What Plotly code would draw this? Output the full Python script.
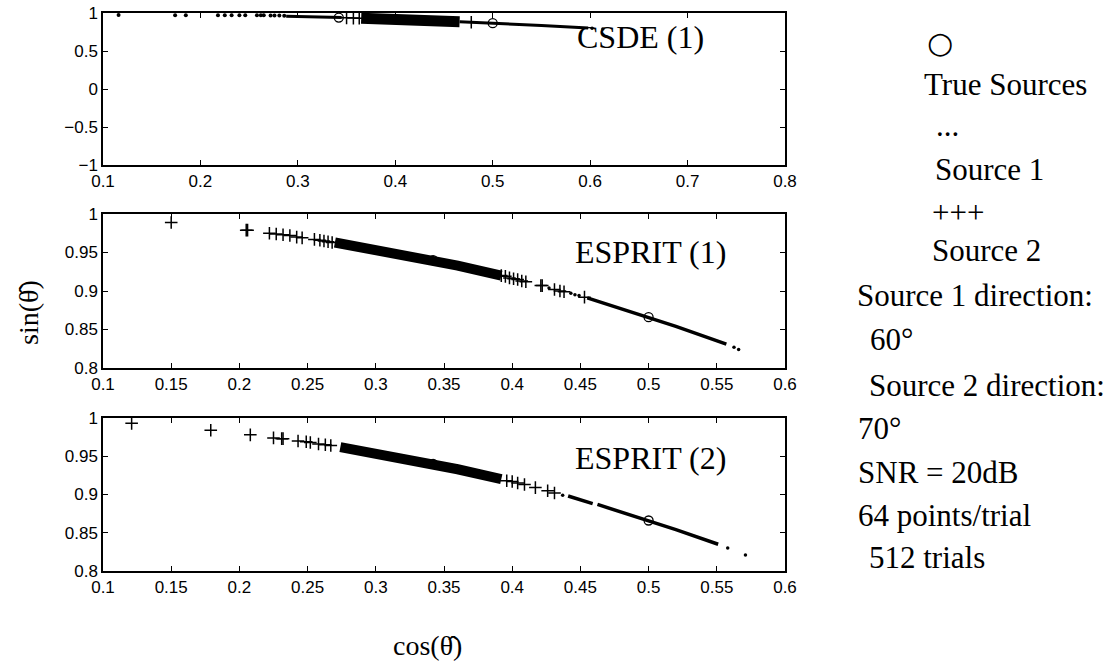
import plotly.graph_objects as go

W, H = 1116, 663

# ---------------- data ----------------
true_x = [0.342, 0.500]
true_y = [0.940, 0.866]

# CSDE (1)
csde_s2_x = [0.116, 0.174, 0.185, 0.218, 0.225, 0.232, 0.240, 0.246, 0.258, 0.262, 0.265, 0.272, 0.276, 0.281, 0.286]
csde_s2_y = [0.975, 0.972, 0.972, 0.972, 0.972, 0.972, 0.972, 0.971, 0.969, 0.969, 0.969, 0.967, 0.967, 0.966, 0.965]
csde_plus_x = [0.350, 0.357, 0.363, 0.478]
csde_plus_y = [0.936, 0.933, 0.931, 0.878]
csde_band_x = [0.365, 0.400, 0.430, 0.466]
csde_band_y = [0.931, 0.917, 0.903, 0.885]
csde_s1_line_x = [0.288, 0.345, None, 0.466, 0.500, 0.550, 0.598]
csde_s1_line_y = [0.958, 0.942, None, 0.885, 0.866, 0.835, 0.801]
csde_s1_x = [0.602, 0.613]
csde_s1_y = [0.798, 0.790]

# ESPRIT (1)
esp1_s2_x = [0.150, 0.205, 0.206, 0.222, 0.227, 0.232, 0.237, 0.242, 0.246, 0.255, 0.259, 0.262, 0.265, 0.268,
             0.392, 0.395, 0.398, 0.401, 0.404, 0.407, 0.410, 0.421, 0.422, 0.431, 0.435, 0.438, 0.453]
esp1_s2_y = [0.989, 0.979, 0.979, 0.975, 0.974, 0.973, 0.972, 0.970, 0.969, 0.967, 0.966, 0.965, 0.964, 0.963,
             0.920, 0.919, 0.917, 0.916, 0.915, 0.913, 0.912, 0.907, 0.907, 0.902, 0.900, 0.899, 0.892]
esp1_band_x = [0.270, 0.300, 0.330, 0.360, 0.392]
esp1_band_y = [0.963, 0.954, 0.944, 0.933, 0.920]
esp1_s1_x = [0.427, 0.443, 0.446, 0.449, 0.5626, 0.566]
esp1_s1_y = [0.904, 0.897, 0.895, 0.894, 0.827, 0.824]
esp1_s1_line_x = [0.455, 0.480, 0.500, 0.520, 0.557]
esp1_s1_line_y = [0.891, 0.877, 0.866, 0.854, 0.831]

# ESPRIT (2)
esp2_s2_x = [0.121, 0.179, 0.208, 0.225, 0.231, 0.232, 0.243, 0.249, 0.252, 0.258, 0.263, 0.267,
             0.396, 0.400, 0.404, 0.409, 0.417, 0.426, 0.431]
esp2_s2_y = [0.993, 0.984, 0.978, 0.974, 0.973, 0.973, 0.970, 0.969, 0.968, 0.966, 0.965, 0.964,
             0.918, 0.917, 0.915, 0.913, 0.909, 0.905, 0.902]
esp2_band_x = [0.274, 0.300, 0.330, 0.360, 0.392]
esp2_band_y = [0.962, 0.954, 0.944, 0.933, 0.920]
esp2_s1_x = [0.437, 0.558, 0.571]
esp2_s1_y = [0.899, 0.830, 0.821]
esp2_s1_line_x = [0.441, 0.459, None, 0.4625, 0.480, 0.500, 0.520, 0.551]
esp2_s1_line_y = [0.898, 0.888, None, 0.887, 0.877, 0.866, 0.854, 0.835]

panel_titles = ["CSDE (1)", "ESPRIT (1)", "ESPRIT (2)"]
side_text = ["○", "True Sources", "...", "Source 1", "+++", "Source 2", "Source 1 direction:",
             "60°", "Source 2 direction:", "70°", "SNR = 20dB", "64 points/trial", "512 trials"]

# ---------------- figure ----------------
fig = go.Figure()
BLACK = "black"


def plus(x, y, ax, size=9):
    return go.Scatter(x=x, y=y, mode="markers", xaxis=ax[0], yaxis=ax[1], cliponaxis=False,
                      marker=dict(symbol="cross-thin", size=size, line=dict(width=1.5, color=BLACK)),
                      showlegend=False, hoverinfo="skip")


def dots(x, y, ax, size=3.5):
    return go.Scatter(x=x, y=y, mode="markers", xaxis=ax[0], yaxis=ax[1], cliponaxis=False,
                      marker=dict(symbol="circle", size=size, color=BLACK),
                      showlegend=False, hoverinfo="skip")


def band(x, y, ax, width):
    return go.Scatter(x=x, y=y, mode="lines", xaxis=ax[0], yaxis=ax[1], cliponaxis=False,
                      line=dict(color=BLACK, width=width), showlegend=False, hoverinfo="skip")


def truth(ax):
    return go.Scatter(x=true_x, y=true_y, mode="markers", xaxis=ax[0], yaxis=ax[1], cliponaxis=False,
                      marker=dict(symbol="circle-open", size=9, color=BLACK, line=dict(width=1.3, color=BLACK)),
                      showlegend=False, hoverinfo="skip")


a1, a2, a3 = ("x", "y"), ("x2", "y2"), ("x3", "y3")

fig.add_trace(dots(csde_s2_x, csde_s2_y, a1, 4))
fig.add_trace(band(csde_s1_line_x, csde_s1_line_y, a1, 3))
fig.add_trace(band(csde_band_x, csde_band_y, a1, 11))
fig.add_trace(plus(csde_plus_x, csde_plus_y, a1))
fig.add_trace(dots(csde_s1_x, csde_s1_y, a1))
fig.add_trace(truth(a1))

fig.add_trace(band(esp1_band_x, esp1_band_y, a2, 10))
fig.add_trace(plus(esp1_s2_x, esp1_s2_y, a2))
fig.add_trace(band(esp1_s1_line_x, esp1_s1_line_y, a2, 3.5))
fig.add_trace(dots(esp1_s1_x, esp1_s1_y, a2))
fig.add_trace(truth(a2))

fig.add_trace(band(esp2_band_x, esp2_band_y, a3, 10))
fig.add_trace(plus(esp2_s2_x, esp2_s2_y, a3))
fig.add_trace(band(esp2_s1_line_x, esp2_s1_line_y, a3, 3.5))
fig.add_trace(dots(esp2_s1_x, esp2_s1_y, a3))
fig.add_trace(truth(a3))


def px_x(p):
    return p / W


def px_y(p):
    return 1 - p / H


tickfont = dict(family="Liberation Sans, Arial, sans-serif", size=17, color=BLACK)
axis_common = dict(showline=True, linecolor=BLACK, linewidth=1.5, mirror="ticks", ticks="inside",
                   ticklen=5, tickwidth=1, tickcolor=BLACK, showgrid=False, zeroline=False,
                   tickfont=tickfont, automargin=False, fixedrange=True)

xdom = [px_x(103), px_x(785)]
fig.update_layout(
    width=W, height=H, margin=dict(l=0, r=0, t=0, b=0),
    paper_bgcolor="white", plot_bgcolor="white", showlegend=False,
    xaxis=dict(domain=xdom, range=[0.1, 0.8], dtick=0.1, tick0=0.1, anchor="y", **axis_common),
    yaxis=dict(domain=[px_y(165), px_y(13)], range=[-1, 1], dtick=0.5, anchor="x", **axis_common),
    xaxis2=dict(domain=xdom, range=[0.1, 0.6], dtick=0.05, tick0=0.1, anchor="y2", **axis_common),
    yaxis2=dict(domain=[px_y(368), px_y(214)], range=[0.8, 1], dtick=0.05, anchor="x2", **axis_common),
    xaxis3=dict(domain=xdom, range=[0.1, 0.6], dtick=0.05, tick0=0.1, anchor="y3", **axis_common),
    yaxis3=dict(domain=[px_y(571), px_y(418)], range=[0.8, 1], dtick=0.05, anchor="x3", **axis_common),
)

serif = "Liberation Serif, Times New Roman, serif"
annos = []
# panel titles
for t, (cx, cy) in zip(panel_titles, [(640, 37), (650, 252), (650, 458)]):
    annos.append(dict(text=t, x=px_x(cx), y=px_y(cy), xref="paper", yref="paper", showarrow=False,
                      xanchor="center", yanchor="middle", font=dict(family=serif, size=32, color=BLACK)))

# side texts (left x, centre y)
side_pos = [(925, 42), (922, 84), (934, 125), (933, 170), (930, 213), (930, 250), (855, 295),
            (868, 340), (867, 385), (856, 428), (856, 472), (856, 515), (867, 557)]
side_size = [30, 31, 31, 31, 31, 31, 31, 31, 31, 31, 31, 31, 31]
for t, (lx, cy), sz in zip(side_text, side_pos, side_size):
    annos.append(dict(text=t, x=px_x(lx), y=px_y(cy), xref="paper", yref="paper", showarrow=False,
                      xanchor="left", yanchor="middle",
                      font=dict(family=serif if t != "○" else "DejaVu Sans, sans-serif", size=sz, color=BLACK)))

# axis labels
annos.append(dict(text="sin(θ\u0302)", x=px_x(28), y=px_y(313), xref="paper", yref="paper", showarrow=False,
                  textangle=-90, xanchor="center", yanchor="middle",
                  font=dict(family=serif, size=28, color=BLACK)))
annos.append(dict(text="cos(θ\u0302)", x=px_x(427), y=px_y(645), xref="paper", yref="paper", showarrow=False,
                  xanchor="center", yanchor="middle", font=dict(family=serif, size=28, color=BLACK)))

fig.update_layout(annotations=annos)
fig.write_html("out.html")
